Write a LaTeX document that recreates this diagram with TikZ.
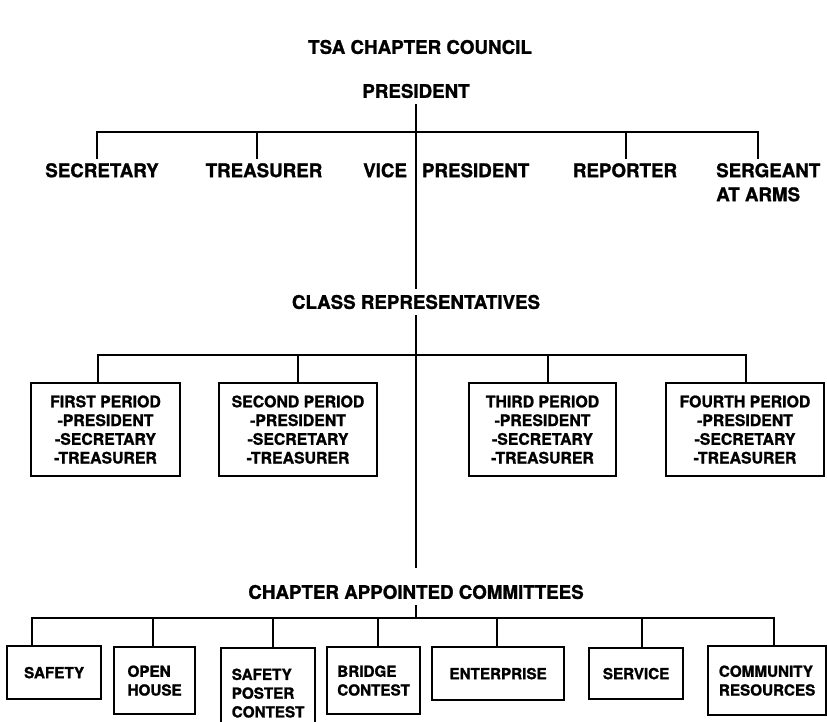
\documentclass[tikz,border=0pt]{standalone}
\usepackage{fontspec}
\setmainfont{TeX Gyre Heros}[BoldFeatures={FakeBold=1.3}]
\usetikzlibrary{positioning}

\begin{document}
\begin{tikzpicture}[x=0.03cm,y=-0.03cm,
  rule/.style={line width=1.9pt,line cap=rect},
  head/.style={font=\fontsize{16}{19}\selectfont\bfseries,inner xsep=0pt,inner ysep=0.21cm},
  office/.style={font=\fontsize{16}{20.5}\selectfont\bfseries,anchor=north,
    inner xsep=0pt,inner ysep=0.15cm,align=left},
  period/.style={draw,line width=1.9pt,anchor=north,minimum height=2.79cm,
    align=center,inner sep=0pt,font=\fontsize{13.5}{16}\selectfont\bfseries},
  cmte/.style={draw,line width=1.9pt,anchor=north west,align=left,
    inner sep=0pt,font=\fontsize{13}{16}\selectfont\bfseries}]
  \useasboundingbox (0,0) rectangle (827,722);

  \node[head] (title) at (420,47) {TSA CHAPTER COUNCIL};
  \node[head] (pres) at (416,91) {PRESIDENT};
  \node[head] (class) at (416,302) {CLASS REPRESENTATIVES};
  \node[head] (chap) at (416,592) {CHAPTER APPOINTED COMMITTEES};

  % officers
  \node[office] (sec) at (102,158) {SECRETARY};
  \node[office] (tre) at (264,158) {TREASURER};
  \node[office,anchor=north west] (vp) at (363,158) {VICE\hspace{0.45cm}PRESIDENT};
  \node[office] (rep) at (625,158) {REPORTER};
  \node[office,anchor=north west] (sgt) at (716,158) {SERGEANT\\AT ARMS};

  \foreach \n/\x in {sec/97,tre/257,rep/626,sgt/758}{
    \coordinate (t\n) at (\x,132);
    \draw[rule] (t\n) -- (t\n |- \n.north);
  }
  \draw[rule] (tsec) -- (tsgt);
  \draw[rule] (pres.south) -- (class.north);

  % class periods
  \node[period,minimum width=4.47cm] (p1) at (105.5,382) {FIRST PERIOD\\-PRESIDENT\\-SECRETARY\\-TREASURER};
  \node[period,minimum width=4.74cm] (p2) at (298,382) {SECOND PERIOD\\-PRESIDENT\\-SECRETARY\\-TREASURER};
  \node[period,minimum width=4.41cm] (p3) at (542.5,382) {THIRD PERIOD\\-PRESIDENT\\-SECRETARY\\-TREASURER};
  \node[period,minimum width=4.74cm] (p4) at (745,382) {FOURTH PERIOD\\-PRESIDENT\\-SECRETARY\\-TREASURER};

  \foreach \n/\x in {p1/98,p2/298,p3/548,p4/746}{
    \coordinate (t\n) at (\x,355);
    \draw[rule] (t\n) -- (t\n |- \n.north);
  }
  \draw[rule] (tp1) -- (tp4);
  \draw[rule,shorten >=0.33cm] (class.south) -- (chap.north);

  % committees
  \node[cmte,minimum width=2.82cm,minimum height=1.59cm] (c1) at (6,645) {SAFETY};
  \node[cmte,minimum width=2.43cm,minimum height=2.01cm] (c2) at (113,646) {OPEN\\HOUSE};
  \node[cmte,minimum width=2.82cm,minimum height=2.7cm] (c3) at (220,647) {SAFETY\\POSTER\\CONTEST};
  \node[cmte,minimum width=2.79cm,minimum height=2.01cm] (c4) at (326,646) {BRIDGE\\CONTEST};
  \node[cmte,minimum width=3.96cm,minimum height=1.59cm] (c5) at (431,646) {ENTERPRISE};
  \node[cmte,minimum width=2.82cm,minimum height=1.53cm] (c6) at (588,647) {SERVICE};
  \node[cmte,minimum width=3.54cm,minimum height=2.07cm] (c7) at (707,645) {COMMUNITY\\RESOURCES};

  \foreach \n/\x in {c1/32,c2/153,c3/273,c4/378,c5/497,c6/642,c7/774}{
    \coordinate (t\n) at (\x,618);
    \draw[rule] (t\n) -- (t\n |- \n.north);
  }
  \draw[rule] (tc1) -- (tc7);
  \draw[rule] (chap.south) -- (chap.south |- tc1);
\end{tikzpicture}
\end{document}
